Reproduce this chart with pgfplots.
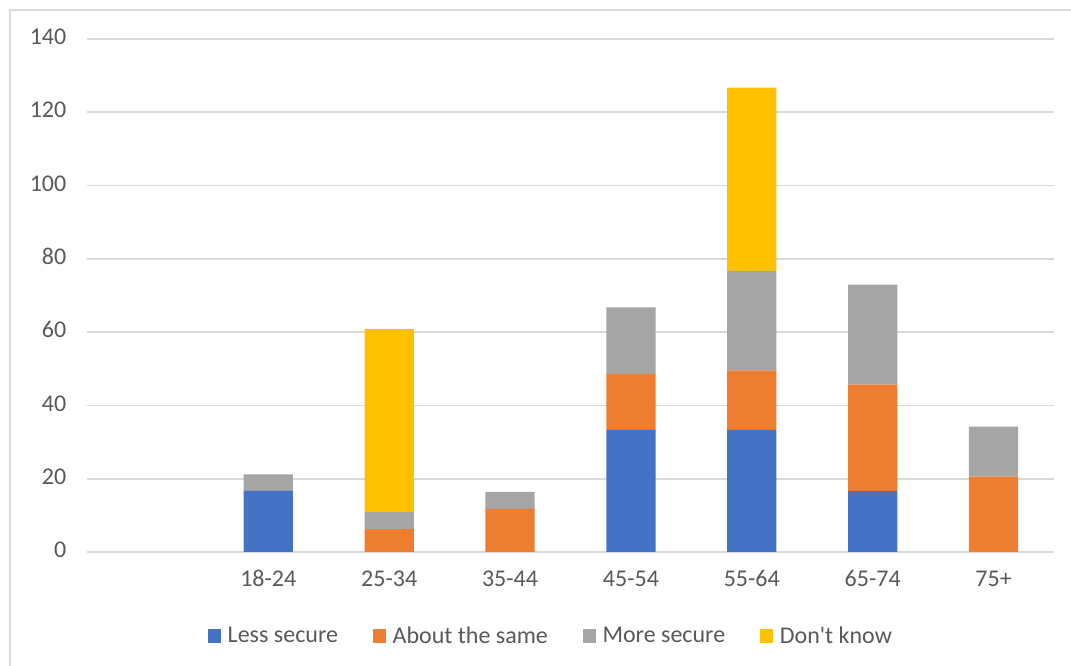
\documentclass[border=0pt]{standalone}
\usepackage{pgfplots}
\pgfplotsset{compat=1.18}
\usepackage{fontspec}
\setmainfont{Carlito}
\definecolor{lessC}{HTML}{4472C4}
\definecolor{sameC}{HTML}{ED7D31}
\definecolor{moreC}{HTML}{A5A5A5}
\definecolor{dkC}{HTML}{FFC000}
\definecolor{txtC}{HTML}{595959}
\definecolor{gridC}{HTML}{D9D9D9}
\begin{document}
\begin{tikzpicture}
\useasboundingbox (0pt,0pt) rectangle (803.25pt,499.5pt);
\draw[draw=gridC, line width=1.2pt] (7.5pt,0pt) -- (7.5pt,492pt) -- (803.25pt,492pt);
\begin{axis}[
  at={(65.25pt,85.5pt)}, anchor=south west,
  scale only axis, width=725.25pt, height=384.75pt,
  ybar stacked, bar width=37pt,
  xmin=-0.5, xmax=7.5, ymin=0, ymax=140,
  xtick={1,2,3,4,5,6,7},
  xticklabels={18-24,25-34,35-44,45-54,55-64,65-74,75+},
  ytick={0,20,...,140},
  ymajorgrids, grid style={gridC, line width=1.2pt},
  axis line style={draw=none},
  major tick length=0pt,
  tick label style={font=\fontsize{18}{21}\selectfont, text=txtC},
  typeset ticklabels with strut,
  /pgf/number format/assume math mode=true,
  yticklabel style={xshift=-12pt},
  xticklabel style={yshift=-8pt},
  legend style={at={(0.48,-0.164)}, anchor=center, draw=none, fill=none,
    legend columns=4, font=\fontsize{18}{21}\selectfont, text=txtC,
    /tikz/every odd column/.append style={column sep=3pt},
    /tikz/every even column/.append style={column sep=24pt}},
  legend image code/.code={\fill[#1] (0pt,-5pt) rectangle (10pt,5pt);},
]
\addplot[fill=lessC, draw=none] coordinates {(0,0) (1,16.67) (2,0) (3,0) (4,33.33) (5,33.33) (6,16.67) (7,0)};
\addplot[fill=sameC, draw=none] coordinates {(0,0) (1,0) (2,6.25) (3,11.8) (4,15.3) (5,16.2) (6,29.0) (7,20.6)};
\addplot[fill=moreC, draw=none] coordinates {(0,0) (1,4.5) (2,4.6) (3,4.6) (4,18.1) (5,27.2) (6,27.3) (7,13.6)};
\addplot[fill=dkC, draw=none] coordinates {(0,0) (1,0) (2,50.0) (3,0) (4,0) (5,50.0) (6,0) (7,0)};
\legend{Less secure, About the same, More secure, Don\textquotesingle t know}
\end{axis}
\end{tikzpicture}
\end{document}
